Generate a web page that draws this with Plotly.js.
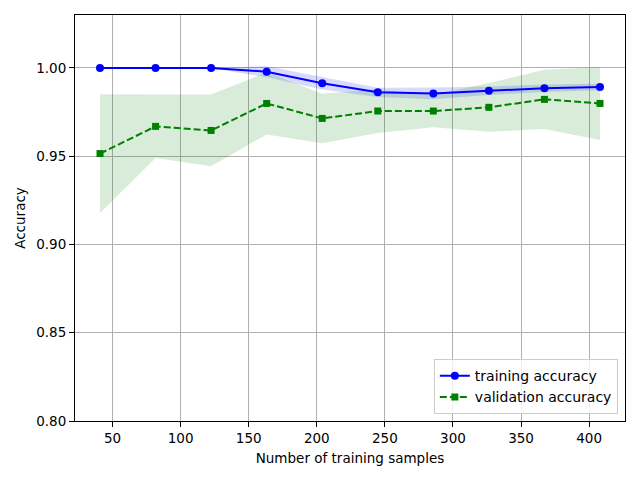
<!DOCTYPE html>
<html>
<head>
<meta charset="utf-8">
<script src="https://cdn.plot.ly/plotly-3.0.1.min.js"></script>
<style>html,body{margin:0;padding:0;background:#fff}#chart{width:640px;height:479px}</style>
</head>
<body>
<div id="chart"></div>
<script>
const trainSizes = [40.8, 81.6, 122.4, 163.2, 204, 244.8, 285.6, 326.4, 367.2, 408];
const trainMean = [1.0, 1.0, 1.0, 0.9979, 0.9913, 0.9862, 0.9856, 0.9871, 0.9885, 0.9892];
const trainStd = [0.0, 0.0, 0.0, 0.0031, 0.0035, 0.0026, 0.0033, 0.0024, 0.0021, 0.0019];
const valMean = [0.9515, 0.9669, 0.9646, 0.9799, 0.9714, 0.9756, 0.9756, 0.9777, 0.9822, 0.9799];
const valStd = [0.0336, 0.0179, 0.0203, 0.0176, 0.0140, 0.0124, 0.0092, 0.0138, 0.0168, 0.0207];

const add = (m, s, k) => m.map((v, i) => v + k * s[i]);
const font = 'DejaVu Sans, sans-serif';

function band(mean, std, color) {
  const up = add(mean, std, 1), lo = add(mean, std, -1);
  return {
    x: trainSizes.concat(trainSizes.slice().reverse()),
    y: up.concat(lo.slice().reverse()),
    type: 'scatter', mode: 'lines', fill: 'toself',
    fillcolor: color, line: {width: 0}, hoverinfo: 'skip', showlegend: false
  };
}

const data = [
  band(trainMean, trainStd, 'rgba(0,0,255,0.15)'),
  band(valMean, valStd, 'rgba(0,128,0,0.15)'),
  {x: trainSizes, y: trainMean, type: 'scatter', mode: 'lines+markers',
   name: 'training accuracy', line: {color: '#0000ff', width: 2},
   marker: {symbol: 'circle', size: 8, color: '#0000ff'}},
  {x: trainSizes, y: valMean, type: 'scatter', mode: 'lines+markers',
   name: 'validation accuracy', line: {color: '#008000', width: 2, dash: '7px,3px'},
   marker: {symbol: 'square', size: 7, color: '#008000'}}
];

const axisCommon = {
  showline: true, mirror: true, linecolor: '#000', linewidth: 1,
  ticks: 'outside', ticklen: 5, tickcolor: '#000',
  showgrid: true, gridcolor: '#b0b0b0', gridwidth: 1, zeroline: false,
  tickfont: {family: font, size: 13.5, color: '#000'}
};

const layout = {
  width: 640, height: 479,
  margin: {l: 75, r: 15, t: 15, b: 58},
  paper_bgcolor: '#fff', plot_bgcolor: '#fff',
  font: {family: font, color: '#000'},
  xaxis: Object.assign({}, axisCommon, {
    range: [22.44, 426.36], tickvals: [50,100,150,200,250,300,350,400],
    title: {text: 'Number of training samples', font: {family: font, size: 13.5}, standoff: 8}
  }),
  yaxis: Object.assign({}, axisCommon, {
    range: [0.80, 1.03], tickvals: [0.80,0.85,0.90,0.95,1.00], tickformat: '.2f',
    title: {text: 'Accuracy', font: {family: font, size: 13.5}, standoff: 7}
  }),
  legend: {
    x: 0.987, y: 0.017, xanchor: 'right', yanchor: 'bottom',
    bgcolor: 'rgba(255,255,255,0.8)', bordercolor: '#cccccc', borderwidth: 1,
    font: {family: font, size: 14}, tracegroupgap: 0
  },
  showlegend: true
};

Plotly.newPlot('chart', data, layout, {displayModeBar: false, staticPlot: true});
</script>
</body>
</html>
